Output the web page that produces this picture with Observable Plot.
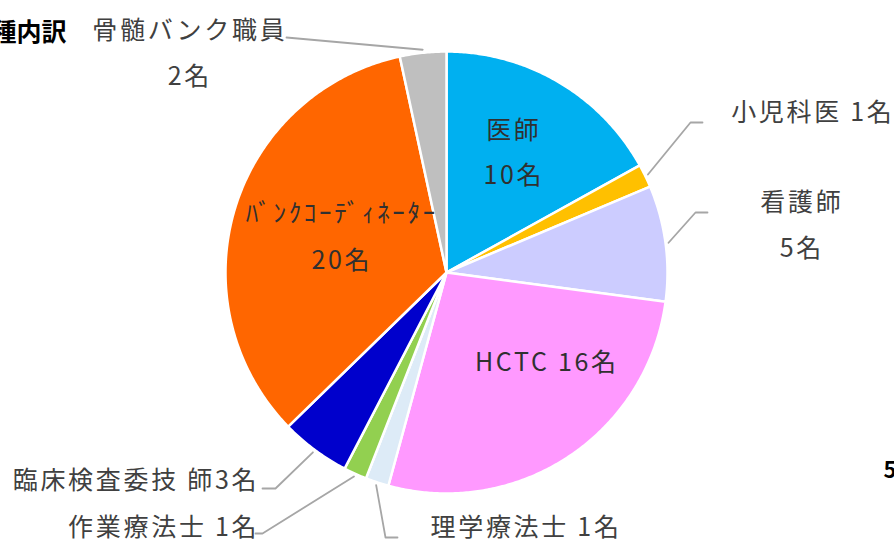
<!DOCTYPE html>
<html>
<head>
<meta charset="utf-8">
<script src="https://cdn.jsdelivr.net/npm/d3@7"></script>
<script src="https://cdn.jsdelivr.net/npm/@observablehq/plot@0.6"></script>
<style>
  html, body { margin: 0; padding: 0; background: #fff; overflow: hidden; }
</style>
</head>
<body>
<div id="chart"></div>
<script>
// ---- data ----
const names = ["医師", "小児科医", "看護師", "HCTC", "理学療法士", "作業療法士", "臨床検査委技師", "バンクコーディネーター", "骨髄バンク職員"];
const counts = [10, 1, 5, 16, 1, 1, 3, 20, 2];
const labelTexts = [
  ["医師", "10名"],
  ["小児科医 1名"],
  ["看護師", "5名"],
  ["HCTC 16名"],
  ["理学療法士 1名"],
  ["作業療法士 1名"],
  ["臨床検査委技 師3名"],
  ["ﾊﾞﾝｸｺｰﾃﾞｨﾈｰﾀｰ", "20名"],
  ["骨髄バンク職員", "2名"]
];
const titleText = "職種内訳";
const totalText = "59名";

// ---- style / layout ----
const colors = ["#00B0F0", "#FFC000", "#CCCCFF", "#FF99FF", "#DDEBF7", "#92D050", "#0000CC", "#FF6600", "#BFBFBF"];
const W = 894, H = 541;
const CX = 446, CY = 272, R = 221;
const LS = 2.7; // letter spacing of labels
// label placement: [x, y, anchor] per line, per slice
const labelPos = [
  [[512, 130, "middle"], [512, 175, "middle"]],
  [[811, 112, "middle"]],
  [[800, 202, "middle"], [800, 248, "middle"]],
  [[545, 362, "middle"]],
  [[430, 527, "start"]],
  [[256, 527, "end"]],
  [[256, 480, "end"]],
  [[340, 213, "middle"], [340, 260, "middle"]],
  [[188, 30, "middle"], [188, 76, "middle"]]
];
const insideLabel = [true, false, false, true, false, false, false, true, false];
// leader line elbows/ends (null = no leader)
const leaderPath = [
  null,
  [[690, 122], [702, 122]],
  [[695, 212], [707, 212]],
  null,
  [[385, 537], [397, 537]],
  [[262, 533], [255, 533]],
  [[275, 488], [262, 488]],
  null,
  [[286, 37]]
];

// ---- build ----
const arcs = d3.pie().sort(null).value(d => d)(counts);
const polar = (a, r) => [CX + r * Math.sin(a), CY - r * Math.cos(a)];

const slicePts = [];
arcs.forEach((arc, i) => {
  const name = names[i];
  slicePts.push({name, x: CX, y: CY});
  const n = Math.max(2, Math.ceil((arc.endAngle - arc.startAngle) / (Math.PI / 360)));
  for (let k = 0; k <= n; k++) {
    const a = arc.startAngle + (arc.endAngle - arc.startAngle) * k / n;
    const [x, y] = polar(a, R);
    slicePts.push({name, x, y});
  }
});

const leaderPts = [];
arcs.forEach((arc, i) => {
  if (!leaderPath[i]) return;
  const mid = (arc.startAngle + arc.endAngle) / 2;
  const [sx, sy] = polar(mid, R + 3);
  leaderPts.push({name: names[i], x: sx, y: sy});
  leaderPath[i].forEach(([x, y]) => leaderPts.push({name: names[i], x, y}));
});

const labels = [];
labelTexts.forEach((lines, i) => {
  lines.forEach((t, j) => {
    const [x, y, anchor] = labelPos[i][j];
    // compensate trailing letter-spacing so the visual anchor stays put
    const dx = anchor === "middle" ? LS / 2 : anchor === "end" ? LS : 0;
    labels.push({text: t, x: x + dx, y, anchor, inside: insideLabel[i]});
  });
});

const font = "'Noto Sans CJK JP', 'Noto Sans', sans-serif";

const labelMarks = ["middle", "start", "end"].map(anchor =>
  Plot.text(labels.filter(d => d.anchor === anchor), {
    x: "x", y: "y", text: "text", textAnchor: anchor, fontSize: 25,
    fill: d => d.inside ? "#303030" : "#404040"
  })
);

const plot = Plot.plot({
  width: W,
  height: H,
  margin: 0,
  x: {domain: [0, W], range: [0, W], axis: null},
  y: {domain: [0, H], range: [0, H], axis: null},
  color: {domain: names, range: colors},
  style: {fontFamily: font, background: "#fff", overflow: "hidden"},
  marks: [
    Plot.line(slicePts, {x: "x", y: "y", z: "name", fill: "name", stroke: "white", strokeWidth: 2.5, strokeLinejoin: "round", curve: "linear-closed"}),
    Plot.line(leaderPts, {x: "x", y: "y", z: "name", stroke: "#A6A6A6", strokeWidth: 1.8}),
    ...labelMarks,
    Plot.text([titleText], {x: 66, y: 32, text: d => d, textAnchor: "end", fontSize: 25, fontWeight: "bold", fill: "#000"}),
    Plot.text([totalText], {x: 883, y: 470, text: d => d, textAnchor: "start", fontSize: 22, fontWeight: "bold", fill: "#000"})
  ]
});
const labelSet = new Set(labels.map(d => d.text));
d3.select(plot).selectAll("text").each(function () {
  if (labelSet.has(this.textContent)) this.style.letterSpacing = LS + "px";
});
document.getElementById("chart").appendChild(plot);
</script>
</body>
</html>
